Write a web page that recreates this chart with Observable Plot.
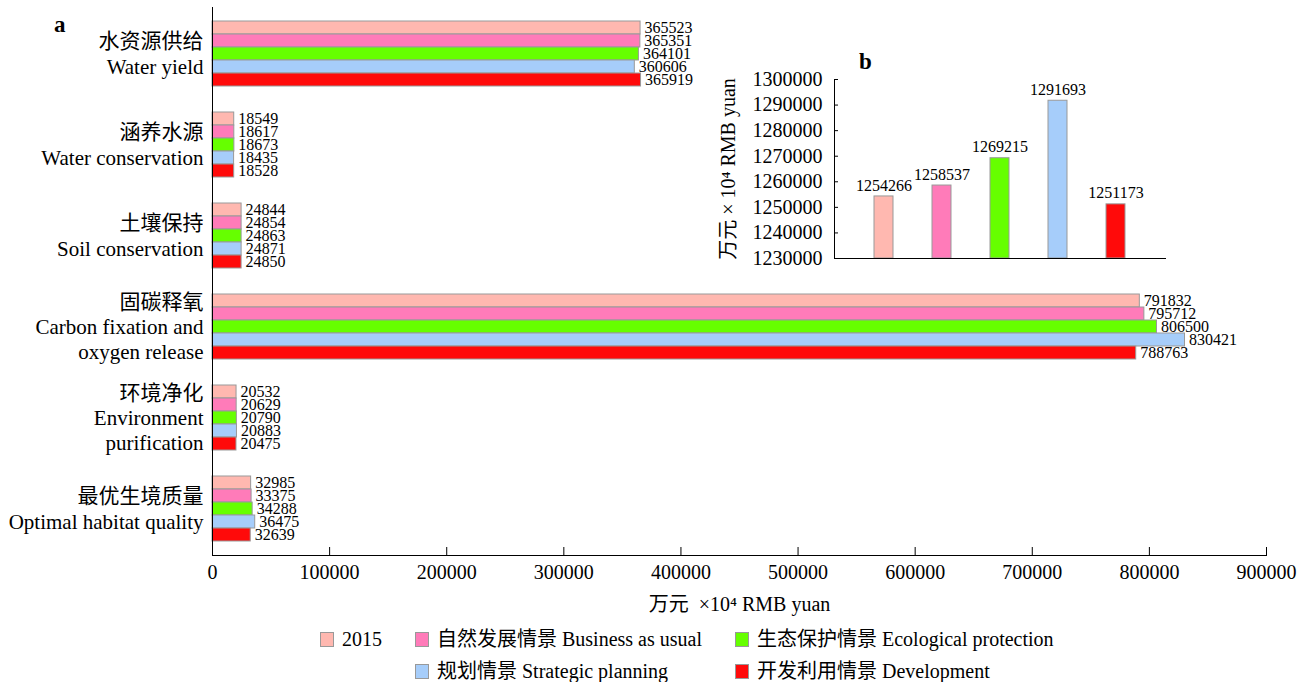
<!DOCTYPE html>
<html><head><meta charset="utf-8">
<script src="https://cdn.jsdelivr.net/npm/d3@7"></script>
<script src="https://cdn.jsdelivr.net/npm/@observablehq/plot@0.6"></script>
<style>
html,body{margin:0;padding:0;background:#fff;}
body{font-family:"Liberation Serif","Noto Sans CJK SC",serif;color:#000;}
#wrap{position:relative;width:1308px;height:682px;overflow:hidden;}
#main{position:absolute;left:0;top:0;}
#inset{position:absolute;left:700px;top:40px;}
.panel{position:absolute;font-weight:bold;font-size:23px;line-height:1;}
.leg{position:absolute;display:flex;align-items:center;font-size:20px;white-space:nowrap;line-height:1;}
.sw{width:12px;height:13px;border:1px solid #999;margin-right:8px;}
</style></head>
<body><div id="wrap">
<div id="main"></div>
<div id="inset"></div>
<div class="panel" style="left:54px;top:13px;">a</div>
<div class="panel" style="left:859px;top:50px;">b</div>
<div id="legend"></div>
</div>
<script>
// ---- data ----
const categoryZh = ["水资源供给","涵养水源","土壤保持","固碳释氧","环境净化","最优生境质量"];
const categoryEn = ["Water yield","Water conservation","Soil conservation","Carbon fixation and\noxygen release","Environment\npurification","Optimal habitat quality"];
const scenarioKeys = ["2015","Business as usual","Ecological protection","Strategic planning","Development"];
const scenarioZh = ["","自然发展情景","生态保护情景","规划情景","开发利用情景"];
const colors = ["#FFB8B0","#FF7BB9","#66FF00","#A6CDFA","#FF0A0A"];
const v2015 = [365523,18549,24844,791832,20532,32985];
const vBAU = [365351,18617,24854,795712,20629,33375];
const vEco = [364101,18673,24863,806500,20790,34288];
const vStrat = [360606,18435,24871,830421,20883,36475];
const vDev = [365919,18528,24850,788763,20475,32639];
const totals = [1254266,1258537,1269215,1291693,1251173];
const xTicks = [0,100000,200000,300000,400000,500000,600000,700000,800000,900000];
const yTicksB = [1230000,1240000,1250000,1260000,1270000,1280000,1290000,1300000];
const xTitle = "万元  ×10⁴ RMB yuan";
const yTitleB = "万元 × 10⁴ RMB yuan";

// ---- build tables ----
const seriesArrays = [v2015, vBAU, vEco, vStrat, vDev];
const key = (c, s) => c + "|" + s;
const rows = [];
categoryZh.forEach((c, i) => seriesArrays.forEach((arr, j) => rows.push({cat: c, scen: scenarioKeys[j], value: arr[i]})));
// band domain: five bars per category, two empty slots between categories
const yDomain = [];
categoryZh.forEach((c, i) => {
  scenarioKeys.forEach(s => yDomain.push(key(c, s)));
  if (i < categoryZh.length - 1) yDomain.push("gap" + i + "a", "gap" + i + "b");
});
const labelRows = categoryZh.map((c, i) => ({cat: c, label: c + "\n" + categoryEn[i]}));
const totalRows = scenarioKeys.map((s, i) => ({scen: s, value: totals[i]}));
const font = "'Liberation Serif','Noto Sans CJK SC',serif";

const main = Plot.plot({
  width: 1308, height: 620,
  marginLeft: 212, marginRight: 42, marginTop: 7, marginBottom: 65,
  style: {fontFamily: font, background: "white", color: "black", overflow: "visible"},
  x: {domain: [0, 900000]},
  y: {domain: yDomain, paddingInner: 0, paddingOuter: 0.85, axis: null},
  color: {domain: scenarioKeys, range: colors},
  marks: [
    Plot.barX(rows, {y: d => key(d.cat, d.scen), x: "value", fill: "scen", stroke: "#999", strokeWidth: 1}),
    Plot.text(rows, {y: d => key(d.cat, d.scen), x: "value", text: d => String(d.value), textAnchor: "start", dx: 4, fontSize: 16}),
    Plot.text(labelRows, {y: d => key(d.cat, scenarioKeys[2]), text: "label", frameAnchor: "left", textAnchor: "end", dx: -9, dy: -1, fontSize: 21, lineHeight: 1.2}),
    Plot.frame({anchor: "left"}),
    Plot.frame({anchor: "bottom"}),
    Plot.axisX({ticks: xTicks, tickSize: 8, dy: -8, tickFormat: () => "", label: null}),
    Plot.axisX({ticks: xTicks, tickSize: 0, tickPadding: 9, tickFormat: d => String(d), fontSize: 20,
      label: xTitle, labelAnchor: "center", labelOffset: 55, labelArrow: "none"})
  ]
});
document.getElementById("main").appendChild(main);

const inset = Plot.plot({
  width: 480, height: 240,
  marginLeft: 134, marginRight: 15, marginTop: 39, marginBottom: 22,
  style: {fontFamily: font, background: "transparent", color: "black", overflow: "visible"},
  x: {domain: scenarioKeys, padding: 0.68, axis: null},
  y: {domain: [yTicksB[0], yTicksB[yTicksB.length - 1]]},
  color: {domain: scenarioKeys, range: colors},
  marks: [
    Plot.barY(totalRows, {x: "scen", y1: yTicksB[0], y2: "value", fill: "scen", stroke: "#999", strokeWidth: 1}),
    Plot.text(totalRows, {x: "scen", y: "value", text: d => String(d.value), dy: -11, fontSize: 16}),
    Plot.frame({anchor: "left"}),
    Plot.frame({anchor: "bottom"}),
    Plot.axisY({ticks: yTicksB, tickSize: 4, dx: 4, tickFormat: () => "", label: null}),
    Plot.axisY({ticks: yTicksB, tickSize: 0, tickPadding: 12, tickFormat: d => String(d), fontSize: 20,
      label: yTitleB, labelAnchor: "center", labelOffset: 114, labelArrow: "none"})
  ]
});
document.getElementById("inset").appendChild(inset);

// ---- legend ----
const colLefts = [320, 415, 735];
const legendSlots = [[0, 0], [0, 1], [0, 2], [1, 1], [1, 2]];
const rowTops = [632, 664];
const leg = document.getElementById("legend");
scenarioKeys.forEach((s, i) => {
  const [r, c] = legendSlots[i];
  const item = document.createElement("div");
  item.className = "leg";
  item.style.left = colLefts[c] + "px";
  item.style.top = (rowTops[r] - 4) + "px";
  item.style.height = "22px";
  const sw = document.createElement("span");
  sw.className = "sw";
  sw.style.background = colors[i];
  const tx = document.createElement("span");
  tx.textContent = (scenarioZh[i] ? scenarioZh[i] + " " : "") + s;
  item.appendChild(sw); item.appendChild(tx);
  leg.appendChild(item);
});
</script>
</body></html>
